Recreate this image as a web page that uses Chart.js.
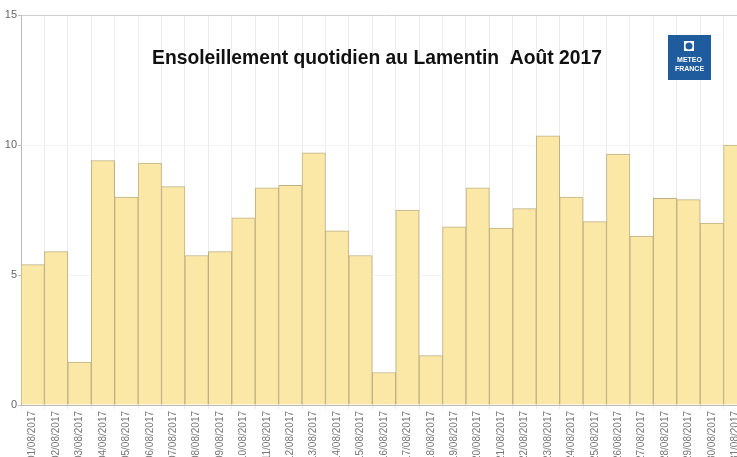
<!DOCTYPE html>
<html>
<head>
<meta charset="utf-8">
<script src="https://cdn.jsdelivr.net/npm/chart.js@4"></script>
<style>
  html, body { margin: 0; padding: 0; background: #fff; overflow: hidden; }
  #wrap { width: 737px; height: 457px; overflow: hidden; position: relative; }
  #box { width: 762px; height: 480px; position: absolute; left: 0; top: 0; }
</style>
</head>
<body>
<div id="wrap"><div id="box"><canvas id="sun-chart"></canvas></div></div>
<script>
// Daily sunshine (hours) at Le Lamentin, August 2017
var days = ['01/08/2017','02/08/2017','03/08/2017','04/08/2017','05/08/2017','06/08/2017','07/08/2017',
	'08/08/2017','09/08/2017','10/08/2017','11/08/2017','12/08/2017','13/08/2017','14/08/2017',
	'15/08/2017','16/08/2017','17/08/2017','18/08/2017','19/08/2017','20/08/2017','21/08/2017',
	'22/08/2017','23/08/2017','24/08/2017','25/08/2017','26/08/2017','27/08/2017','28/08/2017',
	'29/08/2017','30/08/2017','31/08/2017'];
var sunshine = [5.4, 5.9, 1.65, 9.4, 8.0, 9.3, 8.4, 5.75, 5.9, 7.2, 8.35, 8.45, 9.7, 6.7,
	5.75, 1.25, 7.5, 1.9, 6.85, 8.35, 6.8, 7.55, 10.35, 8.0, 7.05, 9.65, 6.5, 7.95, 7.9, 7.0, 10.0];
var yTicks = [0, 5, 10, 15];
var chart_title = 'Ensoleillement quotidien au Lamentin  Ao\u00fbt 2017';

// title + Meteo France logo drawn on top of the plot
var overlay = {
	id: 'overlay',
	afterDraw: function(chart) {
		var ctx = chart.ctx;
		ctx.save();
		ctx.fillStyle = '#111';
		ctx.font = 'bold 19.3px "Liberation Sans", Arial, sans-serif';
		ctx.textAlign = 'center';
		ctx.textBaseline = 'alphabetic';
		ctx.fillText(chart_title, 377, 64);

		// logo
		ctx.textBaseline = 'middle';
		ctx.fillStyle = '#1f5c9e';
		ctx.fillRect(668, 35, 43, 45);
		ctx.fillStyle = '#fff';
		ctx.fillRect(684, 41, 10, 10);
		ctx.fillStyle = '#1f5c9e';
		ctx.beginPath();
		ctx.arc(689, 46, 3.5, 0, Math.PI * 2);
		ctx.fill();
		ctx.fillStyle = '#fff';
		ctx.font = 'bold 7px "Liberation Sans", Arial, sans-serif';
		ctx.fillText('METEO', 689.5, 60);
		ctx.fillText('FRANCE', 689.5, 69);
		ctx.restore();
	}
};

var ctx = document.getElementById('sun-chart');
var cfg = {
	type: 'bar',
	data: {
		labels: days,
		datasets: [{
			label: 'Ensoleillement',
			data: sunshine,
			backgroundColor: 'rgb(252,232,166)',
			borderColor: 'rgb(190,176,132)',
			borderWidth: 1,
			barPercentage: 1,
			categoryPercentage: 1
		}]
	},
	options: {
		responsive: true,
		maintainAspectRatio: false,
		animation: false,
		layout: { padding: { top: 15, right: 15, left: 0, bottom: 0 } },
		plugins: {
			legend: { display: false },
			title: { display: false },
			tooltip: { enabled: false }
		},
		scales: {
			x: {
				offset: true,
				grid: { display: true, offset: true, color: '#ececec', tickLength: 4 },
				border: { color: '#bbb' },
				ticks: {
					color: '#777',
					font: { size: 10, family: '"Liberation Sans", Arial, sans-serif' },
					minRotation: 90, maxRotation: 90, autoSkip: false, padding: 2
				},
				afterFit: function(scale) { scale.height = 75; }
			},
			y: {
				min: 0, max: 15,
				afterBuildTicks: function(scale) {
					scale.ticks = yTicks.map(function(v) { return { value: v }; });
				},
				grid: {
					color: function(c) { return c.tick && c.tick.value === 15 ? '#cfcfcf' : '#f2f2f2'; },
					tickLength: 3, tickColor: '#bbb'
				},
				border: { color: '#bbb' },
				ticks: {
					color: '#666',
					font: { size: 11, family: '"Liberation Sans", Arial, sans-serif' },
					padding: 1
				},
				afterFit: function(scale) { scale.width = 21; }
			}
		}
	},
	plugins: [overlay]
};
new Chart(ctx, cfg);
</script>
</body>
</html>
